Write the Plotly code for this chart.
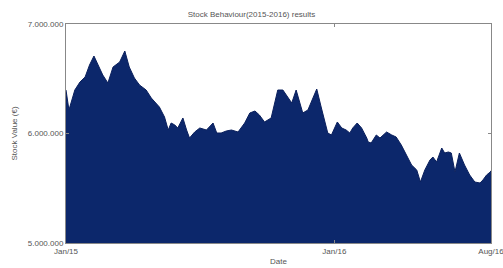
import plotly.graph_objects as go

dates = [
    "2015-01-01", "2015-01-05", "2015-01-13", "2015-01-20", "2015-01-27", "2015-02-02",
    "2015-02-08", "2015-02-15", "2015-02-20", "2015-02-27", "2015-03-06", "2015-03-15",
    "2015-03-22", "2015-03-28", "2015-04-04", "2015-04-11", "2015-04-20", "2015-04-27",
    "2015-05-02", "2015-05-08", "2015-05-15", "2015-05-20", "2015-05-24", "2015-05-29",
    "2015-06-02", "2015-06-09", "2015-06-14", "2015-06-18", "2015-06-25", "2015-07-02",
    "2015-07-11", "2015-07-15", "2015-07-20", "2015-07-25", "2015-07-31", "2015-08-07",
    "2015-08-14", "2015-08-23", "2015-09-01", "2015-09-08", "2015-09-15", "2015-09-21",
    "2015-09-28", "2015-10-07", "2015-10-12", "2015-10-16", "2015-10-23", "2015-10-30",
    "2015-11-04", "2015-11-10", "2015-11-15", "2015-11-19", "2015-11-26", "2015-12-03",
    "2015-12-08", "2015-12-14", "2015-12-19", "2015-12-23", "2015-12-28", "2016-01-05",
    "2016-01-11", "2016-01-17", "2016-01-22", "2016-01-26", "2016-02-01", "2016-02-07",
    "2016-02-14", "2016-02-16", "2016-02-20", "2016-02-27", "2016-03-03", "2016-03-12",
    "2016-03-19", "2016-03-25", "2016-04-01", "2016-04-08", "2016-04-15", "2016-04-22",
    "2016-04-27", "2016-05-03", "2016-05-10", "2016-05-14", "2016-05-19", "2016-05-26",
    "2016-05-30", "2016-06-04", "2016-06-08", "2016-06-13", "2016-06-19", "2016-06-26",
    "2016-07-03", "2016-07-10", "2016-07-17", "2016-07-21", "2016-07-26", "2016-07-31",
    "2016-08-01",
]

stock_values = [
    6397000, 6214600, 6397000, 6470300, 6516000, 6625600,
    6707800, 6607300, 6534300, 6461200, 6607300, 6653000,
    6753400, 6607300, 6506900, 6442900, 6397000, 6324200,
    6287700, 6242000, 6150700, 6032000, 6095900, 6077700,
    6050300, 6141600, 6032000, 5959000, 6013700, 6050300,
    6032000, 6059400, 6095900, 6004600, 6004600, 6022900,
    6032000, 6013700, 6095900, 6187300, 6205500, 6169000,
    6105100, 6141600, 6278600, 6397000, 6397000, 6333400,
    6278600, 6397000, 6278600, 6187300, 6214600, 6333400,
    6406400, 6242000, 6123300, 6004600, 5986400, 6105100,
    6050300, 6032000, 6004600, 6050300, 6095900, 6050300,
    5959000, 5922400, 5913300, 5986400, 5959000, 6013700,
    5986400, 5968100, 5895000, 5803700, 5712400, 5666700,
    5557100, 5666700, 5758000, 5785400, 5739800, 5867600,
    5822000, 5831100, 5822000, 5648500, 5822000, 5712400,
    5621100, 5557100, 5548000, 5575400, 5621100, 5648500,
    5660000,
]

y_tick_vals = [5000000, 6000000, 7000000]
y_tick_text = ["5.000.000", "6.000.000", "7.000.000"]
x_tick_vals = ["2015-01-01", "2016-01-01", "2016-08-01"]
x_tick_text = ["Jan/15", "Jan/16", "Aug/16"]

font = dict(family="Liberation Sans, Arial, sans-serif", size=8, color="#555555")

fig = go.Figure()
fig.add_trace(go.Scatter(
    x=dates, y=stock_values, mode="lines", fill="tozeroy",
    line=dict(color="#0a1f5c", width=1), fillcolor="#0c276b",
    showlegend=False, hoverinfo="skip",
))

fig.update_layout(
    width=503, height=268,
    margin=dict(l=66, r=12, t=24, b=25),
    paper_bgcolor="white", plot_bgcolor="white",
    font=font,
    title=dict(text="Stock Behaviour(2015-2016) results", x=0.5, xanchor="center",
               y=0.947, yanchor="middle", automargin=False,
               font=dict(size=8, color="#555555")),
)
fig.update_xaxes(
    range=["2015-01-01", "2016-08-01"], tickvals=x_tick_vals, ticktext=x_tick_text,
    showgrid=False, zeroline=False, showline=True, linecolor="#888888", linewidth=1,
    mirror="ticks", ticks="inside", ticklen=3, tickcolor="#888888",
    ticklabeloverflow="allow", automargin=False,
    title=dict(text="Date", standoff=3, font=dict(size=8)),
)
fig.update_yaxes(
    range=[5000000, 7000000], tickvals=y_tick_vals, ticktext=y_tick_text,
    showgrid=False, zeroline=False, showline=True, linecolor="#888888", linewidth=1,
    mirror="ticks", ticks="inside", ticklen=3, tickcolor="#888888",
    automargin=False,
    title=dict(text="Stock Value (€)", standoff=9, font=dict(size=8)),
)

fig.write_html("out.html", config={"displayModeBar": False},
               post_script="document.body.style.margin='0';")
